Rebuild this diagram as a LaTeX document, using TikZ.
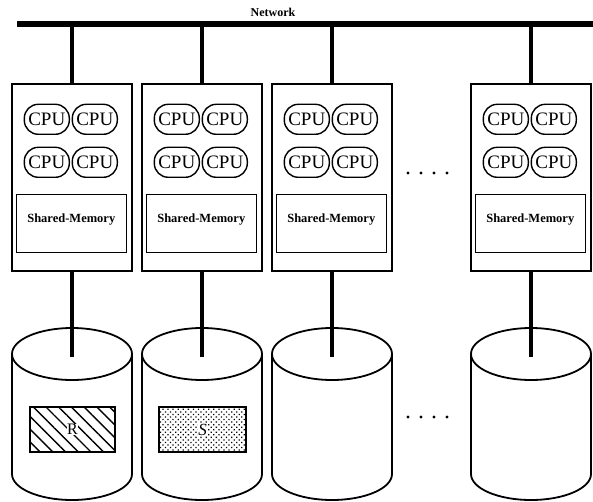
\documentclass[tikz,border=0pt]{standalone}
\usepackage{fontspec}
\setmainfont{Liberation Serif}
\usetikzlibrary{patterns.meta,calc}
\begin{document}
\begin{tikzpicture}[x=1pt,y=1pt,
  nodebox/.style={draw, line width=1.4pt, minimum width=120pt, minimum height=187pt, inner sep=0pt},
  cpu/.style={draw, line width=1.4pt, rounded corners=14pt, minimum width=45pt, minimum height=30pt, inner sep=0pt, font=\fontsize{19}{19}\selectfont},
  shmem/.style={draw, line width=1.4pt, minimum width=110pt, minimum height=58pt, inner sep=0pt},
  shtext/.style={font=\fontsize{12.5}{12.5}\selectfont\bfseries, inner sep=0pt},
  link/.style={line width=4.5pt},
  disk/.style={line width=1.8pt},
  dots/.style={fill=black},
]
\useasboundingbox (0,0) rectangle (593,501);
% network
\node[font=\fontsize{12}{12}\selectfont\bfseries] (netlabel) at (273,489) {Network};
\coordinate (netL) at (17,477);
\coordinate (netR) at (593,477);
\draw[line width=6pt] (netL) -- (netR);

% nodes
\foreach \i/\cx in {1/72,2/202,3/332,4/531}{
  \node[nodebox] (b\i) at (\cx,323.5) {};
  \node[cpu] (c\i a) at ($(b\i.north west)+(35.5,-36)$) {CPU};
  \node[cpu] (c\i b) at ($(b\i.north west)+(83.5,-36)$) {CPU};
  \node[cpu] (c\i c) at ($(b\i.north west)+(35.5,-79)$) {CPU};
  \node[cpu] (c\i d) at ($(b\i.north west)+(83.5,-79)$) {CPU};
  \node[shmem] (m\i) at ($(b\i.north west)+(60,-140)$) {};
  \node[shtext] (t\i) at ($(b\i.north west)+(60,-136)$) {Shared-Memory};
  \coordinate (d\i) at (\cx,144);
  % disk
  \draw[disk] (\cx-60,147) -- (\cx-60,27) arc[start angle=180, end angle=360, x radius=60pt, y radius=26pt] -- (\cx+60,147);
  \draw[disk] (\cx,147) ellipse[x radius=60pt, y radius=26pt];
  \draw[link] (b\i.north |- netL) -- (b\i.north);
  \draw[link] (b\i.south) -- (d\i);
}

% data partitions
\node[draw, line width=1.6pt, minimum width=85pt, minimum height=45pt, inner sep=0pt,
  pattern={Lines[angle=-45, distance=9pt, line width=1.4pt]}] (R) at (72.5,71.5) {};
\node[fill=white, inner sep=0.5pt, font=\fontsize{16}{16}\selectfont] (Rl) at (R) {R};
\node[draw, line width=1.6pt, minimum width=87pt, minimum height=45pt, inner sep=0pt,
  pattern={Dots[radius=0.9pt, distance=3.6pt, angle=45]}] (S) at (202.5,71.5) {};
\node[fill=white, inner sep=0.5pt, font=\fontsize{17}{17}\selectfont\itshape] (Sl) at (S) {S};

% ellipsis dots
\foreach \x in {408,421,434,447}{
  \fill[dots] (\x,328) circle (1.6pt);
  \fill[dots] (\x,84) circle (1.6pt);
}
\end{tikzpicture}
\end{document}
